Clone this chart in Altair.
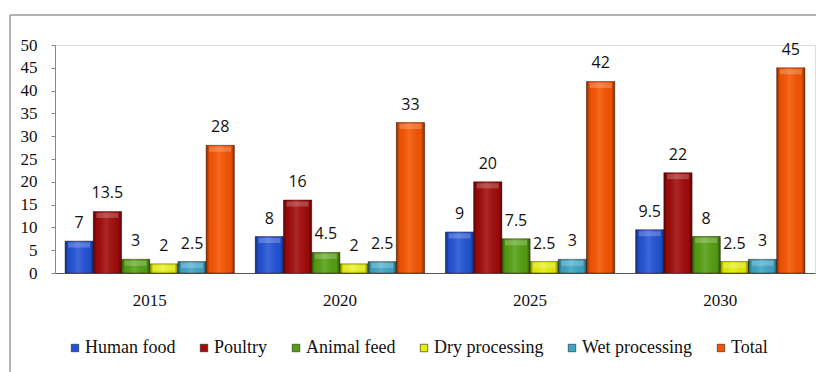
import altair as alt
import pandas as pd

# Projected demand by use, per year
years = ["2015", "2020", "2025", "2030"]
series = ["Human food", "Poultry", "Animal feed", "Dry processing", "Wet processing", "Total"]
human_food = [7, 8, 9, 9.5]
poultry = [13.5, 16, 20, 22]
animal_feed = [3, 4.5, 7.5, 8]
dry_processing = [2, 2, 2.5, 2.5]
wet_processing = [2.5, 2.5, 3, 3]
total = [28, 33, 42, 45]
colors = ["#2253d6", "#a10a0a", "#55a012", "#e6f000", "#3ba6c6", "#f75400"]

values_by_series = [human_food, poultry, animal_feed, dry_processing, wet_processing, total]
rows = []
for name, vals in zip(series, values_by_series):
    for yr, v in zip(years, vals):
        rows.append({"year": yr, "series": name, "value": v})
df = pd.DataFrame(rows)

x_enc = alt.X("year:N", sort=years, title=None,
              scale=alt.Scale(paddingInner=0.11, paddingOuter=0.053),
              axis=alt.Axis(labelAngle=0, ticks=False, domainColor="#555555",
                            labelFont="Liberation Serif", labelFontSize=17,
                            labelColor="#111111", labelPadding=19))
xo_enc = alt.XOffset("series:N", sort=series, scale=alt.Scale(paddingInner=0, paddingOuter=0))
y_enc = alt.Y("value:Q", title=None,
              scale=alt.Scale(domain=[0, 50], nice=False),
              axis=alt.Axis(values=list(range(0, 51, 5)), grid=False, tickSize=4,
                            tickColor="#888888", domainColor="#888888",
                            labelFont="Liberation Serif", labelFontSize=17,
                            labelColor="#111111", labelPadding=14))

base = alt.Chart(df)

bars = base.mark_bar(stroke="#3a1a10", strokeWidth=0.8, strokeOpacity=0.6).encode(
    x=x_enc, xOffset=xo_enc, y=y_enc,
    color=alt.Color("series:N", sort=series,
                    scale=alt.Scale(domain=series, range=colors),
                    legend=alt.Legend(title=None, orient="none", legendX=11, legendY=294,
                                      direction="horizontal", columns=6, gridAlign="each",
                                      symbolType="square", symbolSize=56,
                                      symbolStrokeColor="#222222", symbolStrokeWidth=0.6,
                                      labelFont="Liberation Serif", labelFontSize=18,
                                      labelColor="#111111", labelOffset=1,
                                      columnPadding=19, padding=0)),
)

# bevel shading across each bar
shade = base.mark_bar(
    color=alt.Gradient(
        gradient="linear", x1=0, x2=1, y1=0, y2=0,
        stops=[
            alt.GradientStop(offset=0, color="rgba(0,0,0,0.45)"),
            alt.GradientStop(offset=0.12, color="rgba(0,0,0,0.05)"),
            alt.GradientStop(offset=0.45, color="rgba(255,255,255,0.12)"),
            alt.GradientStop(offset=0.88, color="rgba(0,0,0,0.05)"),
            alt.GradientStop(offset=1, color="rgba(0,0,0,0.45)"),
        ],
    )
).encode(x=x_enc, xOffset=xo_enc, y=y_enc)

# light cap on top of each bar
cap = base.mark_tick(thickness=5, size=22, color="white", opacity=0.22, yOffset=4).encode(
    x=x_enc, xOffset=xo_enc, y=y_enc)

labels = base.mark_text(font="Open Sans", fontSize=16, color="#111111",
                        baseline="alphabetic", dy=-13).encode(
    x=x_enc, xOffset=xo_enc, y=y_enc, text=alt.Text("value:Q"))

frame_data = alt.Chart(pd.DataFrame({"k": [0]}))
frame_top = frame_data.mark_rule(color="#9a9a9a", strokeWidth=1.5).encode(
    x=alt.value(-45), x2=alt.value(761), y=alt.value(-30))
frame_left = frame_data.mark_rule(color="#9a9a9a", strokeWidth=1.5).encode(
    x=alt.value(-45), y=alt.value(-30), y2=alt.value(327))

chart = alt.layer(bars, shade, cap, labels, frame_top, frame_left).properties(
    width=760, height=228,
    autosize=alt.AutoSizeParams(type="none"),
    padding={"left": 55, "top": 45, "right": 1, "bottom": 99},
).configure_view(stroke=None).configure(background="white")

chart.save("out.html", embed_options={"renderer": "svg", "actions": False})
